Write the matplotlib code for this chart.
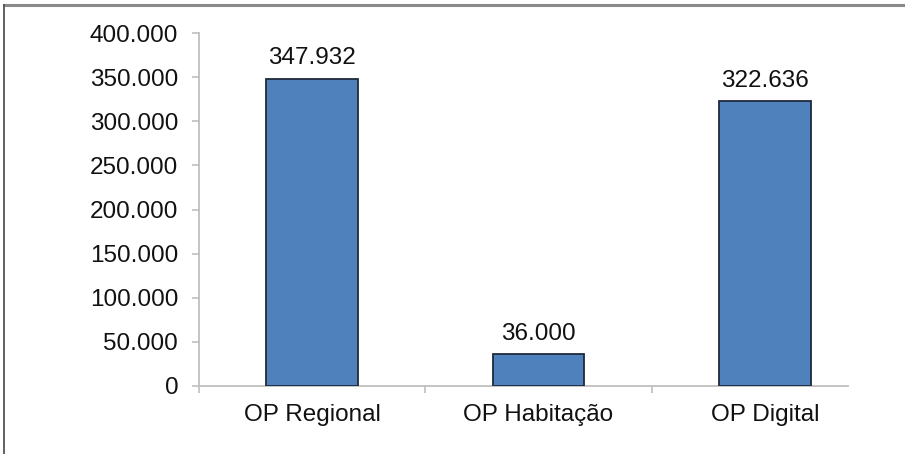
import matplotlib.pyplot as plt
from matplotlib.lines import Line2D
from matplotlib.ticker import FuncFormatter, FixedLocator

plt.rcParams['font.family'] = ['Liberation Sans', 'DejaVu Sans']

categories = ['OP Regional', 'OP Habitação', 'OP Digital']
values = [347932, 36000, 322636]


def pt_number(v):
    '''Format an integer with a dot as thousands separator'''
    return f'{int(round(v)):,}'.replace(',', '.')


fig = plt.figure(figsize=(9.05, 4.54), dpi=100)
ax = fig.add_axes([199 / 905, 68 / 454, (848 - 199) / 905, (386 - 33) / 454])

x = list(range(len(categories)))
ax.bar(x, values, width=0.405, color='#4F81BD', edgecolor='#1f2a3c',
       linewidth=1.3, zorder=3)

# Value labels above each bar
for xi, v in zip(x, values):
    ax.annotate(pt_number(v), xy=(xi, v), xytext=(0, 7),
                textcoords='offset points', ha='center', va='bottom',
                fontsize=17.5, color='#111111')

ax.set_ylim(0, 400000)
ax.set_xlim(-0.5, 2.367)
ax.yaxis.set_major_locator(FixedLocator(range(0, 400001, 50000)))
ax.yaxis.set_major_formatter(FuncFormatter(lambda v, p: pt_number(v)))

ax.set_xticks(x)
ax.set_xticklabels(categories)
ax.xaxis.set_minor_locator(FixedLocator([-0.5, 0.5, 1.5]))

for side in ['top', 'right']:
    ax.spines[side].set_visible(False)
for side in ['left', 'bottom']:
    ax.spines[side].set_color('#bfbfbf')
    ax.spines[side].set_linewidth(1.3)

ax.tick_params(axis='y', which='major', length=5, width=1.2, color='#bfbfbf',
               labelsize=17.5, labelcolor='#111111', pad=10)
ax.tick_params(axis='x', which='major', length=0, labelsize=17.5,
               labelcolor='#111111', pad=13)
ax.tick_params(axis='x', which='minor', length=5, width=1.2, color='#bfbfbf')

# Outer frame lines along the top and left edges
fig.add_artist(Line2D([4 / 905, 1], [1 - 5 / 454, 1 - 5 / 454],
                      transform=fig.transFigure, color='#8a8a8a', linewidth=2.2))
fig.add_artist(Line2D([4 / 905, 4 / 905], [0, 1 - 5 / 454],
                      transform=fig.transFigure, color='#555555', linewidth=1.3))

fig.savefig('out.png', dpi=100)
